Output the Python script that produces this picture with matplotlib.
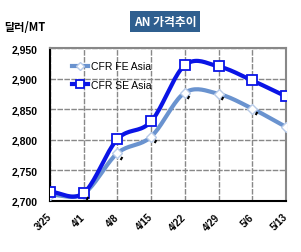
import numpy as np
import matplotlib
matplotlib.use("Agg")
import matplotlib.pyplot as plt
import matplotlib.transforms as mtrans
from matplotlib.lines import Line2D

dates = ["3/25", "4/1", "4/8", "4/15", "4/22", "4/29", "5/6", "5/13"]
fe_asia = [2710, 2712, 2778, 2805, 2877, 2875, 2851, 2821]
se_asia = [2715, 2713, 2801, 2830, 2922, 2920, 2897, 2871]
y_ticks = [2700, 2750, 2800, 2850, 2900, 2950]

plt.rcParams['font.family'] = ['Liberation Sans', 'Noto Sans CJK KR', 'DejaVu Sans']

def smooth(xs, ys, n=20):
    xs = np.asarray(xs, float); ys = np.asarray(ys, float)
    px = np.concatenate([[2*xs[0]-xs[1]], xs, [2*xs[-1]-xs[-2]]])
    py = np.concatenate([[2*ys[0]-ys[1]], ys, [2*ys[-1]-ys[-2]]])
    ox, oy = [], []
    for i in range(1, len(px)-2):
        t = np.linspace(0, 1, n, endpoint=False)
        for arr, out in ((px, ox), (py, oy)):
            p0, p1, p2, p3 = arr[i-1], arr[i], arr[i+1], arr[i+2]
            out.extend(0.5*((2*p1) + (-p0+p2)*t + (2*p0-5*p1+4*p2-p3)*t**2 + (-p0+3*p1-3*p2+p3)*t**3))
    ox.append(xs[-1]); oy.append(ys[-1])
    return np.array(ox), np.array(oy)

fig = plt.figure(figsize=(3.01, 2.53), dpi=100)
ax = fig.add_axes([0.166, 0.202, 0.784, 0.604])
x = np.arange(len(dates))

fe_c = '#6a93cf'
se_c = '#0a14e6'
sx, sy = smooth(x, fe_asia)
ax.plot(sx, sy, color=fe_c, lw=3, zorder=3)
ax.plot(x, fe_asia, ls='none', marker='D', ms=5, mfc='white', mec='#b8cbe8', mew=1, zorder=4)
# small dark marks beside the FE points
off = mtrans.offset_copy(ax.transData, fig=fig, x=3.5, y=-4.5, units='dots')
ax.plot(x[1:], fe_asia[1:], ls='none', marker=(2, 0, -30), ms=2.5, mec='black', mew=1.5,
        transform=off, zorder=5)
sx, sy = smooth(x, se_asia)
ax.plot(sx, sy, color=se_c, lw=3, zorder=3)
ax.plot(x, se_asia, ls='none', marker='s', ms=6.5, mfc='white', mec=se_c, mew=1.3, zorder=4)

h1 = Line2D([], [], color=fe_c, lw=3, marker='D', ms=4.5, mfc='white', mec='#b8cbe8')
h2 = Line2D([], [], color=se_c, lw=3, marker='s', ms=5.5, mfc='white', mec=se_c, mew=1.3)
ax.legend([h1, h2], ['CFR FE Asia', 'CFR SE Asia'], loc='upper left', bbox_to_anchor=(0.055, 0.975),
          frameon=False, handlelength=1.5, handletextpad=0.25, labelspacing=0.85,
          prop={'size': 7.5})

ax.set_xlim(0, len(dates)-1)
ax.set_ylim(2700, 2950)
ax.set_yticks(y_ticks)
ax.set_yticklabels([f"{v:,}" for v in y_ticks], fontsize=7.5, fontweight='bold')
ax.set_xticks(x)
ax.set_xticklabels(dates, rotation=45, ha='right', va='center', rotation_mode='anchor',
                   fontsize=7, fontweight='bold')
shift = mtrans.ScaledTranslation(6/100, 0, fig.dpi_scale_trans)
for lbl in ax.get_xticklabels():
    lbl.set_transform(lbl.get_transform() + shift)
ax.tick_params(axis='both', length=0)
ax.tick_params(axis='y', pad=9)
ax.tick_params(axis='x', pad=10)
ax.grid(True, color='#888888', lw=1, ls=(0, (4, 1)))
ax.set_axisbelow(True)
for s in ['top', 'right']:
    ax.spines[s].set_color('#888888'); ax.spines[s].set_linewidth(1.5)
for s in ['left', 'bottom']:
    ax.spines[s].set_color('black'); ax.spines[s].set_linewidth(1.5)

fig.text(0.548, 0.911, 'AN 가격추이', color='white', fontsize=8.5, fontweight='bold', ha='center', va='center',
         family=['Noto Sans CJK KR', 'DejaVu Sans'],
         bbox=dict(boxstyle='square,pad=0.3', fc='#2f5f8f', ec='none'))
fig.text(0.015, 0.893, '달러/MT', fontsize=8, fontweight='bold', ha='left', va='center',
         family=['Noto Sans CJK KR', 'DejaVu Sans'])

fig.savefig('out.png', dpi=100)
